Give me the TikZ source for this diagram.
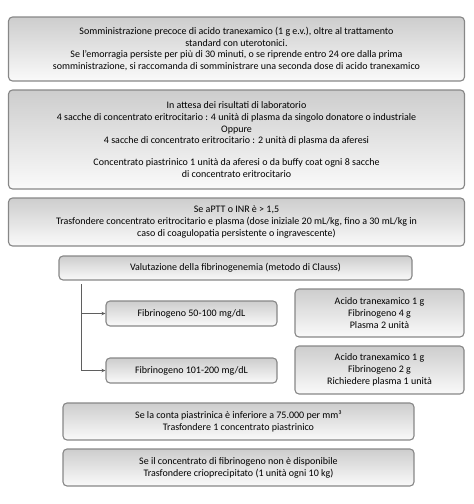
\documentclass[tikz,border=0pt]{standalone}
\usepackage{fontspec}
\setmainfont{Carlito}
\usetikzlibrary{arrows.meta}
\definecolor{bordergray}{RGB}{135,135,135}
\definecolor{topgray}{RGB}{205,205,205}
\definecolor{botgray}{RGB}{250,250,250}
\definecolor{linegray}{RGB}{95,95,95}
\tikzset{
  box/.style={draw=bordergray, line width=1.1pt, rounded corners=4pt,
    top color=topgray, bottom color=botgray, align=center, inner sep=0pt,
    font=\fontsize{10pt}{11.8pt}\selectfont, text=black},
  conn/.style={draw=linegray, line width=1pt, -{Stealth[length=4pt,width=3.5pt]}}
}
\begin{document}
\begin{tikzpicture}[x=1pt,y=-1pt]
\useasboundingbox (0,0) rectangle (474,504);
\node[box, minimum width=456pt, minimum height=64pt] (b1) at (236.5,49)
 {Somministrazione precoce di acido tranexamico (1 g e.v.), oltre al trattamento\\
  standard con uterotonici.\\
  Se l’emorragia persiste per più di 30 minuti, o se riprende entro 24 ore dalla prima\\
  somministrazione, si raccomanda di somministrare una seconda dose di acido tranexamico};
\node[box, minimum width=456pt, minimum height=99pt] (b2) at (236.5,139.5)
 {In attesa dei risultati di laboratorio\\
  4 sacche di concentrato eritrocitario : 4 unità di plasma da singolo donatore o industriale\\
  Oppure\\
  4 sacche di concentrato eritrocitario : 2 unità di plasma da aferesi\\[10pt]
  Concentrato piastrinico 1 unità da aferesi o da buffy coat ogni 8 sacche\\
  di concentrato eritrocitario};
\node[box, minimum width=456pt, minimum height=48pt] (b3) at (236.5,222)
 {Se aPTT o INR è > 1,5\\
  Trasfondere concentrato eritrocitario e plasma (dose iniziale 20 mL/kg, fino a 30 mL/kg in\\
  caso di coagulopatia persistente o ingravescente)};
\node[box, minimum width=353pt, minimum height=24pt] (b4) at (235.5,268)
 {Valutazione della fibrinogenemia (metodo di Clauss)};
\node[box, minimum width=171pt, minimum height=25pt] (f1) at (191.5,313.5)
 {Fibrinogeno 50-100 mg/dL};
\node[box, minimum width=171pt, minimum height=25pt] (f2) at (191.5,370.5)
 {Fibrinogeno 101-200 mg/dL};
\node[box, minimum width=169pt, minimum height=48pt] (r1) at (379.5,313)
 {Acido tranexamico 1 g\\ Fibrinogeno 4 g\\ Plasma 2 unità};
\node[box, minimum width=169pt, minimum height=48pt] (r2) at (379.5,370)
 {Acido tranexamico 1 g\\ Fibrinogeno 2 g\\ Richiedere plasma 1 unità};
\node[box, minimum width=351pt, minimum height=37pt] (p1) at (238.5,421.5)
 {Se la conta piastrinica è inferiore a 75.000 per mm³\\
  Trasfondere 1 concentrato piastrinico};
\node[box, minimum width=351pt, minimum height=37pt] (p2) at (238.5,467.5)
 {Se il concentrato di fibrinogeno non è disponibile\\
  Trasfondere crioprecipitato (1 unità ogni 10 kg)};
\coordinate (vtop) at (81,284);
\draw[conn] (vtop) |- (f2.west);
\draw[conn] (vtop |- f1.west) -- (f1.west);
\end{tikzpicture}
\end{document}
